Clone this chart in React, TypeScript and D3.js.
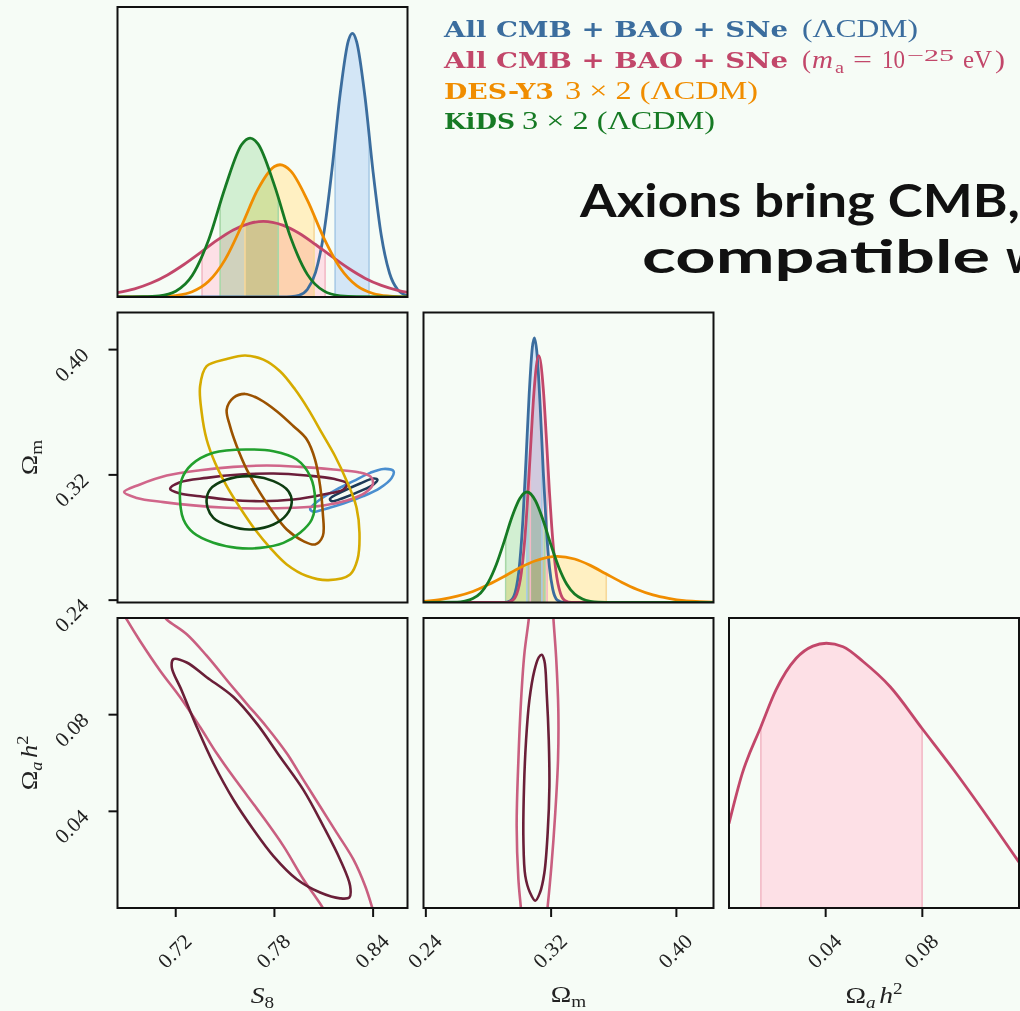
import React from 'react';
import * as d3 from 'd3';

type Pt = [number, number];

// ---- axis ticks ----
const s8Ticks = [0.72, 0.78, 0.84];
const omTicks = [0.24, 0.32, 0.4];
const oahTicks = [0.04, 0.08];

// ---- plotted parameter ranges ----
const s8Range: Pt = [0.6846, 0.8609];
const omRange: Pt = [0.2385, 0.4237];
const oahRange: Pt = [0.0, 0.12];

// ---- 1D marginals of S8: [S8, density] ----
const s8CmbLcdm: Pt[] = [[0.6846, 0], [0.785, 0], [0.79, 0.001], [0.795, 0.006], [0.8, 0.026], [0.805, 0.085], [0.81, 0.218], [0.815, 0.44], [0.82, 0.702], [0.825, 0.885], [0.8274, 0.909], [0.83, 0.88], [0.835, 0.693], [0.84, 0.43], [0.845, 0.211], [0.85, 0.082], [0.855, 0.025], [0.8609, 0.004]];
const s8CmbAxion: Pt[] = [[0.6846, 0.015], [0.695, 0.028], [0.705, 0.048], [0.715, 0.076], [0.725, 0.112], [0.735, 0.153], [0.745, 0.195], [0.755, 0.231], [0.765, 0.254], [0.7733, 0.261], [0.785, 0.248], [0.795, 0.22], [0.805, 0.181], [0.815, 0.139], [0.825, 0.099], [0.835, 0.065], [0.845, 0.04], [0.855, 0.023], [0.8609, 0.016]];
const s8Des: Pt[] = [[0.6846, 0], [0.7, 0], [0.71, 0.001], [0.72, 0.005], [0.73, 0.018], [0.74, 0.054], [0.75, 0.129], [0.76, 0.245], [0.77, 0.372], [0.78, 0.45], [0.7834, 0.456], [0.79, 0.434], [0.8, 0.334], [0.81, 0.204], [0.82, 0.1], [0.83, 0.039], [0.84, 0.012], [0.85, 0.003], [0.8609, 0]];
const s8Kids: Pt[] = [[0.6846, 0], [0.7, 0.001], [0.71, 0.004], [0.72, 0.02], [0.73, 0.074], [0.74, 0.197], [0.75, 0.377], [0.76, 0.525], [0.7652, 0.548], [0.77, 0.528], [0.78, 0.385], [0.79, 0.203], [0.8, 0.078], [0.81, 0.021], [0.82, 0.004], [0.83, 0.001], [0.8609, 0]];
// 68% intervals of S8
const s8CmbLcdmBand: Pt = [0.8169, 0.8375];
const s8CmbAxionBand: Pt = [0.736, 0.8108];
const s8DesBand: Pt = [0.7621, 0.8041];
const s8KidsBand: Pt = [0.747, 0.7823];

// ---- 1D marginals of Omega_m ----
const omCmbLcdm: Pt[] = [[0.2385, 0], [0.29, 0], [0.294, 0.006], [0.297, 0.034], [0.3, 0.14], [0.302, 0.287], [0.304, 0.496], [0.306, 0.72], [0.308, 0.879], [0.3093, 0.912], [0.311, 0.857], [0.313, 0.678], [0.315, 0.451], [0.317, 0.252], [0.319, 0.119], [0.321, 0.047], [0.324, 0.008], [0.328, 0], [0.4237, 0]];
const omCmbAxion: Pt[] = [[0.2385, 0], [0.291, 0], [0.295, 0.006], [0.298, 0.028], [0.301, 0.103], [0.303, 0.206], [0.305, 0.359], [0.307, 0.545], [0.309, 0.722], [0.3121, 0.851], [0.315, 0.737], [0.317, 0.564], [0.319, 0.376], [0.321, 0.219], [0.323, 0.111], [0.326, 0.031], [0.329, 0.006], [0.333, 0], [0.4237, 0]];
const omDes: Pt[] = [[0.2385, 0.004], [0.25, 0.011], [0.26, 0.022], [0.27, 0.038], [0.28, 0.062], [0.29, 0.09], [0.3, 0.12], [0.31, 0.144], [0.324, 0.159], [0.335, 0.15], [0.345, 0.128], [0.355, 0.099], [0.365, 0.07], [0.375, 0.045], [0.385, 0.026], [0.395, 0.014], [0.405, 0.006], [0.415, 0.003], [0.4237, 0.001]];
const omKids: Pt[] = [[0.2385, 0], [0.26, 0.001], [0.265, 0.005], [0.27, 0.014], [0.275, 0.033], [0.28, 0.071], [0.285, 0.131], [0.29, 0.21], [0.295, 0.295], [0.3, 0.359], [0.3046, 0.381], [0.31, 0.351], [0.315, 0.282], [0.32, 0.197], [0.325, 0.12], [0.33, 0.063], [0.335, 0.029], [0.34, 0.012], [0.345, 0.004], [0.35, 0.001], [0.36, 0], [0.4237, 0]];
const omCmbLcdmBand: Pt = [0.3045, 0.3141];
const omCmbAxionBand: Pt = [0.3067, 0.3175];
const omDesBand: Pt = [0.2912, 0.3552];
const omKidsBand: Pt = [0.291, 0.316];

// ---- 1D marginal of Omega_a h^2 (axion run only) ----
const oahCmbAxion: Pt[] = [[0.0, 0.291], [0.0055, 0.464], [0.0132, 0.625], [0.0194, 0.751], [0.0278, 0.861], [0.0347, 0.903], [0.0403, 0.913], [0.0472, 0.901], [0.0556, 0.849], [0.0667, 0.763], [0.0799, 0.619], [0.0931, 0.475], [0.107, 0.314], [0.12, 0.158]];
const oahCmbAxionBand: Pt = [0.0132, 0.0799];

// ---- 2D contours (S8, Omega_m) ----
const s8omCmbLcdm95: Pt[] = [[0.8017, 0.2983], [0.8078, 0.3043], [0.8179, 0.3107], [0.828, 0.316], [0.8382, 0.3213], [0.8463, 0.3238], [0.8524, 0.3224], [0.8513, 0.3181], [0.8443, 0.3117], [0.8341, 0.3064], [0.8219, 0.3017], [0.8098, 0.2979], [0.8037, 0.2964]];
const s8omCmbLcdm68: Pt[] = [[0.8138, 0.3047], [0.8219, 0.3096], [0.8321, 0.3145], [0.8402, 0.3177], [0.8426, 0.317], [0.8402, 0.3139], [0.8321, 0.3096], [0.8219, 0.3053], [0.8149, 0.3032]];
const s8omCmbAxion95: Pt[] = [[0.6886, 0.309], [0.6983, 0.3139], [0.7145, 0.3196], [0.7348, 0.323], [0.7551, 0.3251], [0.7753, 0.326], [0.7956, 0.3251], [0.8159, 0.3234], [0.8311, 0.3217], [0.8386, 0.3187], [0.8398, 0.3139], [0.8351, 0.3085], [0.824, 0.3036], [0.8098, 0.3005], [0.7916, 0.299], [0.7713, 0.2985], [0.751, 0.299], [0.7307, 0.3005], [0.7125, 0.3026], [0.6963, 0.3053]];
const s8omCmbAxion68: Pt[] = [[0.7166, 0.3111], [0.7226, 0.3153], [0.7388, 0.3181], [0.7591, 0.3202], [0.7794, 0.3209], [0.7997, 0.3196], [0.8159, 0.3175], [0.824, 0.3145], [0.8219, 0.3107], [0.8098, 0.3075], [0.7916, 0.3043], [0.7713, 0.3032], [0.751, 0.3043], [0.7348, 0.3064], [0.7226, 0.3081]];
const s8omDes95: Pt[] = [[0.7622, 0.3962], [0.7733, 0.3936], [0.7834, 0.3862], [0.7926, 0.3745], [0.8007, 0.3617], [0.8088, 0.3468], [0.8169, 0.3319], [0.824, 0.316], [0.8297, 0.3], [0.8317, 0.283], [0.8305, 0.266], [0.826, 0.2564], [0.8128, 0.2528], [0.7997, 0.2554], [0.7875, 0.2628], [0.7774, 0.2734], [0.7682, 0.2851], [0.7591, 0.299], [0.751, 0.3128], [0.7439, 0.3277], [0.7388, 0.3426], [0.7358, 0.3596], [0.7348, 0.3766], [0.7388, 0.3894], [0.751, 0.394]];
const s8omDes68: Pt[] = [[0.7622, 0.3717], [0.7713, 0.3681], [0.7814, 0.3607], [0.7916, 0.3511], [0.7997, 0.3426], [0.8047, 0.3298], [0.8078, 0.3128], [0.8094, 0.2958], [0.8094, 0.2809], [0.8047, 0.2756], [0.7976, 0.2777], [0.7875, 0.2851], [0.7794, 0.2958], [0.7713, 0.3085], [0.7632, 0.3234], [0.7571, 0.3383], [0.753, 0.3511], [0.751, 0.3617], [0.7551, 0.3692]];
const s8omKids95: Pt[] = [[0.7632, 0.3362], [0.7794, 0.3351], [0.7936, 0.3298], [0.8017, 0.3192], [0.8047, 0.3043], [0.8027, 0.2915], [0.7956, 0.283], [0.7855, 0.2766], [0.7713, 0.2734], [0.7571, 0.2734], [0.7429, 0.2766], [0.7307, 0.283], [0.7247, 0.2915], [0.7226, 0.3043], [0.7236, 0.317], [0.7297, 0.3266], [0.7429, 0.3341]];
const s8omKids68: Pt[] = [[0.7652, 0.3192], [0.7794, 0.316], [0.7885, 0.3096], [0.7905, 0.3022], [0.7875, 0.2947], [0.7794, 0.2883], [0.7652, 0.2851], [0.753, 0.2873], [0.7429, 0.2926], [0.7388, 0.3022], [0.7409, 0.3107], [0.751, 0.317]];

// ---- 2D contours (S8, Omega_a h^2) ----
const s8oahCmbAxion95: Pt[] = [[0.6851, 0.1256], [0.6902, 0.1194], [0.6983, 0.1105], [0.7105, 0.0982], [0.7226, 0.0873], [0.7348, 0.0749], [0.7449, 0.064], [0.7571, 0.0523], [0.7713, 0.0393], [0.7855, 0.0256], [0.7976, 0.0119], [0.8088, 0.0007], [0.8138, -0.0052], [0.8412, -0.0045], [0.8392, 0.0007], [0.8351, 0.0092], [0.828, 0.0201], [0.8179, 0.0311], [0.8078, 0.042], [0.7976, 0.053], [0.7875, 0.064], [0.7753, 0.0749], [0.7632, 0.0845], [0.753, 0.0927], [0.7388, 0.1044], [0.7267, 0.1133], [0.7145, 0.1194], [0.7064, 0.1256]];
const s8oahCmbAxion68: Pt[] = [[0.7186, 0.103], [0.7267, 0.1016], [0.7388, 0.0955], [0.7551, 0.0873], [0.7693, 0.0763], [0.7834, 0.0626], [0.7976, 0.0489], [0.8098, 0.0338], [0.8199, 0.0201], [0.826, 0.0092], [0.8256, 0.0044], [0.8199, 0.004], [0.8078, 0.0064], [0.7936, 0.0119], [0.7794, 0.0215], [0.7672, 0.0325], [0.7551, 0.0448], [0.7429, 0.0599], [0.7328, 0.0749], [0.7236, 0.09], [0.7176, 0.0996]];

// ---- 2D contours (Omega_m, Omega_a h^2) ----
const omoahCmbAxion95: Pt[] = [[0.3065, 0.1256], [0.3057, 0.1194], [0.3029, 0.1051], [0.3008, 0.0859], [0.2991, 0.0612], [0.298, 0.0338], [0.2991, 0.0119], [0.3006, 0.0007], [0.3014, -0.0052], [0.3168, -0.0052], [0.3178, 0.0007], [0.3202, 0.0174], [0.3225, 0.0379], [0.3244, 0.0612], [0.3246, 0.0818], [0.3232, 0.1037], [0.3215, 0.1194], [0.321, 0.1256]];
const omoahCmbAxion68: Pt[] = [[0.314, 0.1048], [0.3157, 0.1023], [0.3172, 0.0886], [0.3185, 0.0694], [0.3189, 0.0503], [0.3178, 0.0311], [0.3157, 0.0146], [0.3129, 0.0064], [0.3099, 0.003], [0.3065, 0.0064], [0.3035, 0.0133], [0.3023, 0.0283], [0.3027, 0.0503], [0.304, 0.0694], [0.3061, 0.0859], [0.3093, 0.0982], [0.3121, 0.1037]];

// ---- legend text ----
const legendBold = ['All CMB + BAO + SNe', 'All CMB + BAO + SNe', 'DES-Y3', 'KiDS'];
const legendRest = ['(ΛCDM)', '', '3 × 2 (ΛCDM)', '3 × 2 (ΛCDM)'];

// ---- styling ----
const BG = '#f6fcf6';
const STYLE = {
  cmbLcdm: { line: '#3b6d9e', fill: '#d3e6f6', edge: '#a9cbe6', c68: '#1d3a58', c95: '#4a8ecf' },
  cmbAxion: { line: '#c2476a', fill: '#fde0e6', edge: '#f3b9c6', c68: '#6b1e3a', c95: '#d0668a' },
  des: { line: '#f08d00', fill: '#fff0c2', edge: '#f6d89a', c68: '#9b5200', c95: '#d6ab00' },
  kids: { line: '#167a24', fill: '#d2efd2', edge: '#a8d8a8', c68: '#0e3d11', c95: '#22a02e' },
};
const AXION_BOTTOM = { c68: '#6a1f38', c95: '#c95f80' };

// ---- layout ----
const W = 1020;
const H = 1011;
const SIZE = 290;
const colX = [117.5, 423.5, 729];
const rowY = [7, 312.5, 618];
const SERIF = "'Liberation Serif', 'DejaVu Serif', serif";
const BOLD_SERIF = "'DejaVu Serif', serif";

const sx = (c: number, dom: Pt) => d3.scaleLinear().domain(dom).range([colX[c], colX[c] + SIZE]);
const sy = (r: number, dom: Pt) => d3.scaleLinear().domain(dom).range([rowY[r] + SIZE, rowY[r]]);

type Marg = { pts: Pt[]; band: Pt; line: string; fill: string; edge: string };

function MarginalPanel({ id, col, row, range, series }: { id: string; col: number; row: number; range: Pt; series: Marg[] }) {
  const x = sx(col, range);
  const y = sy(row, [0, 1]);
  const area = d3.area<Pt>().x((d) => x(d[0])).y0(y(0)).y1((d) => y(d[1])).curve(d3.curveMonotoneX);
  const line = d3.line<Pt>().x((d) => x(d[0])).y((d) => y(d[1])).curve(d3.curveMonotoneX);
  return (
    <g>
      <defs>
        <clipPath id={`${id}-panel`}>
          <rect x={colX[col]} y={rowY[row]} width={SIZE} height={SIZE} />
        </clipPath>
        {series.map((s, i) => (
          <React.Fragment key={i}>
            <clipPath id={`${id}-band${i}`}>
              <rect x={x(s.band[0])} y={rowY[row]} width={x(s.band[1]) - x(s.band[0])} height={SIZE} />
            </clipPath>
            <clipPath id={`${id}-under${i}`}>
              <path d={area(s.pts) || ''} />
            </clipPath>
          </React.Fragment>
        ))}
      </defs>
      <g clipPath={`url(#${id}-panel)`}>
        {series.map((s, i) => (
          <path key={`f${i}`} d={area(s.pts) || ''} fill={s.fill} clipPath={`url(#${id}-band${i})`} style={{ mixBlendMode: 'multiply' }} />
        ))}
        {series.map((s, i) => (
          <g key={`e${i}`} clipPath={`url(#${id}-under${i})`}>
            {s.band.map((b, j) => (
              <line key={j} x1={x(b)} x2={x(b)} y1={rowY[row]} y2={rowY[row] + SIZE} stroke={s.edge} strokeWidth={1.6} style={{ mixBlendMode: 'multiply' }} />
            ))}
          </g>
        ))}
        {series.map((s, i) => (
          <path key={`l${i}`} d={line(s.pts) || ''} fill="none" stroke={s.line} strokeWidth={2.8} strokeLinejoin="round" />
        ))}
      </g>
      <rect x={colX[col]} y={rowY[row]} width={SIZE} height={SIZE} fill="none" stroke="#111" strokeWidth={2} />
    </g>
  );
}

type Cont = { pts: Pt[]; color: string };

function JointPanel({ id, col, row, xr, yr, contours }: { id: string; col: number; row: number; xr: Pt; yr: Pt; contours: Cont[] }) {
  const x = sx(col, xr);
  const y = sy(row, yr);
  const path = d3.line<Pt>().x((d) => x(d[0])).y((d) => y(d[1])).curve(d3.curveCatmullRomClosed.alpha(0.5));
  return (
    <g>
      <defs>
        <clipPath id={`${id}-panel`}>
          <rect x={colX[col]} y={rowY[row]} width={SIZE} height={SIZE} />
        </clipPath>
      </defs>
      <g clipPath={`url(#${id}-panel)`}>
        {contours.map((c, i) => (
          <path key={i} d={path(c.pts) || ''} fill="none" stroke={c.color} strokeWidth={2.6} strokeLinejoin="round" />
        ))}
      </g>
      <rect x={colX[col]} y={rowY[row]} width={SIZE} height={SIZE} fill="none" stroke="#111" strokeWidth={2} />
    </g>
  );
}

function LeftTicks({ row, range, ticks }: { row: number; range: Pt; ticks: number[] }) {
  const y = sy(row, range);
  const x0 = colX[0];
  return (
    <g>
      {ticks.map((t) => (
        <g key={t}>
          <line x1={x0 - 9} x2={x0} y1={y(t)} y2={y(t)} stroke="#111" strokeWidth={2} />
          <text transform={`translate(${x0 - 27.5},${y(t) + 6.6}) rotate(-45)`} textAnchor="end" fontFamily={SERIF} fontSize={21} fill="#222" textLength={38} lengthAdjust="spacingAndGlyphs">
            {t.toFixed(2)}
          </text>
        </g>
      ))}
    </g>
  );
}

function BottomTicks({ col, range, ticks }: { col: number; range: Pt; ticks: number[] }) {
  const x = sx(col, range);
  const yb = rowY[2] + SIZE;
  return (
    <g>
      {ticks.map((t) => (
        <g key={t}>
          <line x1={x(t)} x2={x(t)} y1={yb} y2={yb + 9} stroke="#111" strokeWidth={2} />
          <text transform={`translate(${x(t) + 17.3},${yb + 34.6}) rotate(-45)`} textAnchor="end" fontFamily={SERIF} fontSize={21} fill="#222" textLength={38} lengthAdjust="spacingAndGlyphs">
            {t.toFixed(2)}
          </text>
        </g>
      ))}
    </g>
  );
}

// Omega_a h^2 written with tspans
function OmegaAH2() {
  return (
    <>
      <tspan>Ω</tspan>
      <tspan fontSize={16} dy={5} fontStyle="italic">a</tspan>
      <tspan dy={-5} dx={3} fontStyle="italic">h</tspan>
      <tspan fontSize={16} dy={-9}>2</tspan>
    </>
  );
}

export default function App() {
  const s8Series: Marg[] = [
    { pts: s8CmbLcdm, band: s8CmbLcdmBand, ...STYLE.cmbLcdm },
    { pts: s8CmbAxion, band: s8CmbAxionBand, ...STYLE.cmbAxion },
    { pts: s8Des, band: s8DesBand, ...STYLE.des },
    { pts: s8Kids, band: s8KidsBand, ...STYLE.kids },
  ];
  const omSeries: Marg[] = [
    { pts: omCmbLcdm, band: omCmbLcdmBand, ...STYLE.cmbLcdm },
    { pts: omCmbAxion, band: omCmbAxionBand, ...STYLE.cmbAxion },
    { pts: omDes, band: omDesBand, ...STYLE.des },
    { pts: omKids, band: omKidsBand, ...STYLE.kids },
  ];
  const oahSeries: Marg[] = [{ pts: oahCmbAxion, band: oahCmbAxionBand, ...STYLE.cmbAxion }];

  const legendColors = [STYLE.cmbLcdm.line, STYLE.cmbAxion.line, STYLE.des.line, STYLE.kids.line];
  const legendY = [36.5, 67.5, 98.5, 128.5];
  const boldLen = [344, 344, 110, 71];
  const restX = [802, 0, 565, 522];
  const restLen = [116, 0, 193, 193];
  const labelY = 1003;

  return (
    <svg width={W} height={H} viewBox={`0 0 ${W} ${H}`} style={{ position: 'absolute', left: 0, top: 0, display: 'block' }}>
      <rect x={0} y={0} width={W} height={H} fill={BG} />

      {/* diagonal: 1D marginals */}
      <MarginalPanel id="m-s8" col={0} row={0} range={s8Range} series={s8Series} />
      <MarginalPanel id="m-om" col={1} row={1} range={omRange} series={omSeries} />
      <MarginalPanel id="m-oah" col={2} row={2} range={oahRange} series={oahSeries} />

      {/* off-diagonal: 68% / 95% contours */}
      <JointPanel
        id="j-s8om"
        col={0}
        row={1}
        xr={s8Range}
        yr={omRange}
        contours={[
          { pts: s8omCmbLcdm95, color: STYLE.cmbLcdm.c95 },
          { pts: s8omCmbLcdm68, color: STYLE.cmbLcdm.c68 },
          { pts: s8omCmbAxion95, color: STYLE.cmbAxion.c95 },
          { pts: s8omCmbAxion68, color: STYLE.cmbAxion.c68 },
          { pts: s8omDes95, color: STYLE.des.c95 },
          { pts: s8omDes68, color: STYLE.des.c68 },
          { pts: s8omKids95, color: STYLE.kids.c95 },
          { pts: s8omKids68, color: STYLE.kids.c68 },
        ]}
      />
      <JointPanel
        id="j-s8oah"
        col={0}
        row={2}
        xr={s8Range}
        yr={oahRange}
        contours={[
          { pts: s8oahCmbAxion95, color: AXION_BOTTOM.c95 },
          { pts: s8oahCmbAxion68, color: AXION_BOTTOM.c68 },
        ]}
      />
      <JointPanel
        id="j-omoah"
        col={1}
        row={2}
        xr={omRange}
        yr={oahRange}
        contours={[
          { pts: omoahCmbAxion95, color: AXION_BOTTOM.c95 },
          { pts: omoahCmbAxion68, color: AXION_BOTTOM.c68 },
        ]}
      />

      {/* axes */}
      <LeftTicks row={1} range={omRange} ticks={omTicks} />
      <LeftTicks row={2} range={oahRange} ticks={oahTicks} />
      <BottomTicks col={0} range={s8Range} ticks={s8Ticks} />
      <BottomTicks col={1} range={omRange} ticks={omTicks} />
      <BottomTicks col={2} range={oahRange} ticks={oahTicks} />

      {/* axis labels */}
      <g fontFamily={SERIF} fontSize={23} fill="#222">
        <text transform={`translate(${colX[0] + SIZE / 2},${labelY}) scale(1.2,1)`} textAnchor="middle">
          <tspan fontStyle="italic">S</tspan>
          <tspan fontSize={16} dy={5}>8</tspan>
        </text>
        <text transform={`translate(${colX[1] + SIZE / 2},${labelY - 1}) scale(1.2,1)`} textAnchor="middle">
          <tspan>Ω</tspan>
          <tspan fontSize={16} dy={5}>m</tspan>
        </text>
        <text transform={`translate(${colX[2] + SIZE / 2},${labelY}) scale(1.2,1)`} textAnchor="middle">
          <OmegaAH2 />
        </text>
        <text transform={`translate(36.5,${rowY[1] + SIZE / 2}) rotate(-90) scale(1.2,1)`} textAnchor="middle">
          <tspan>Ω</tspan>
          <tspan fontSize={16} dy={5}>m</tspan>
        </text>
        <text transform={`translate(36.5,${rowY[2] + SIZE / 2}) rotate(-90) scale(1.15,1)`} textAnchor="middle">
          <OmegaAH2 />
        </text>
      </g>

      {/* legend */}
      {legendBold.map((t, i) => (
        <text key={`b${i}`} x={444} y={legendY[i]} fontFamily={BOLD_SERIF} fontWeight="bold" fontSize={23} fill={legendColors[i]} textLength={boldLen[i]} lengthAdjust="spacingAndGlyphs">
          {t}
        </text>
      ))}
      {legendRest.map((t, i) =>
        t ? (
          <text key={`r${i}`} x={restX[i]} y={legendY[i]} fontFamily={SERIF} fontSize={25} fill={legendColors[i]} textLength={restLen[i]} lengthAdjust="spacingAndGlyphs">
            {t}
          </text>
        ) : null
      )}
      <g fontFamily={SERIF} fill={legendColors[1]} fontSize={25}>
        <text x={802} y={legendY[1]} textLength={9} lengthAdjust="spacingAndGlyphs">(</text>
        <text x={812} y={legendY[1]} fontStyle="italic" textLength={21} lengthAdjust="spacingAndGlyphs">m</text>
        <text x={835} y={legendY[1] + 5} fontSize={17} textLength={9} lengthAdjust="spacingAndGlyphs">a</text>
        <text x={853} y={legendY[1]} textLength={19} lengthAdjust="spacingAndGlyphs">=</text>
        <text x={882} y={legendY[1]} textLength={23} lengthAdjust="spacingAndGlyphs">10</text>
        <text x={907} y={legendY[1] - 7} fontSize={17.5} textLength={47} lengthAdjust="spacingAndGlyphs">−25</text>
        <text x={963} y={legendY[1]} textLength={29} lengthAdjust="spacingAndGlyphs">eV</text>
        <text x={995} y={legendY[1]} textLength={10} lengthAdjust="spacingAndGlyphs">)</text>
      </g>

      {/* slide heading */}
      <g fontFamily="Lato, 'Open Sans', sans-serif" fontWeight={700} fontSize={45} fill="#111">
        <text x={580} y={216.5} textLength={440} lengthAdjust="spacingAndGlyphs">Axions bring CMB,</text>
        <text x={642} y={273} textLength={348} lengthAdjust="spacingAndGlyphs">compatible</text>
        <text x={1006} y={273}>w</text>
      </g>
    </svg>
  );
}
